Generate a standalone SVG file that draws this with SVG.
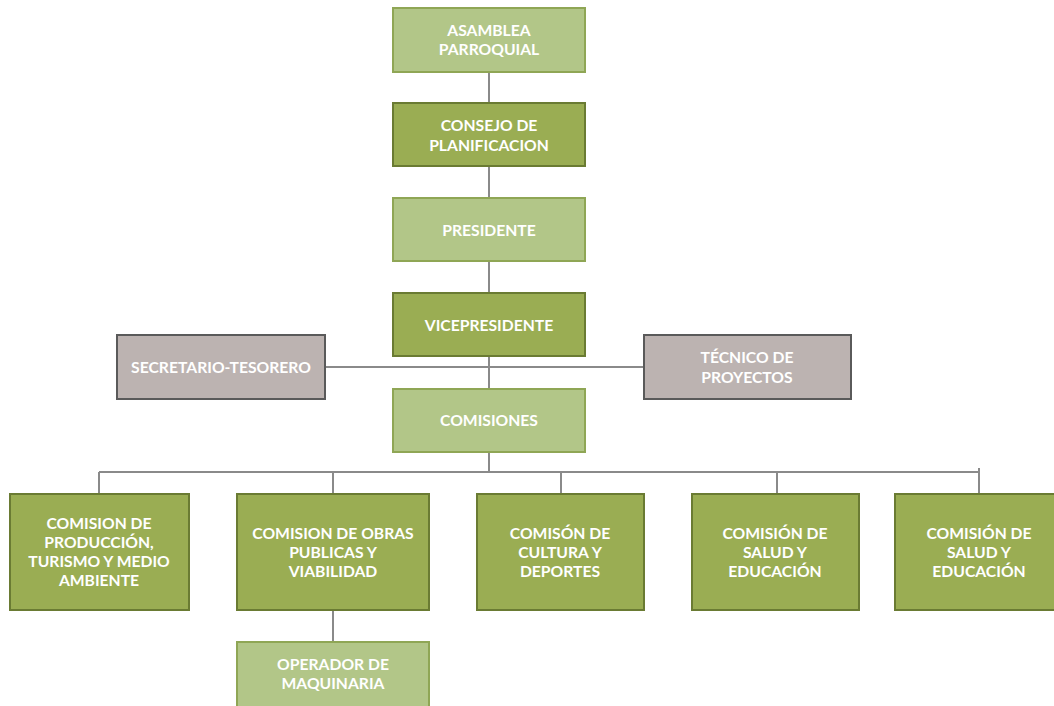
<svg xmlns="http://www.w3.org/2000/svg" width="1054" height="706" viewBox="0 0 1054 706">
<style>
.light{fill:#b2c688;stroke:#8fa655;stroke-width:2}
.dark{fill:#9aad53;stroke:#6a7b33;stroke-width:2}
.gray{fill:#bcb3b1;stroke:#5a5a5a;stroke-width:2}
text{font-family:Lato,"Open Sans","Liberation Sans",sans-serif;font-weight:bold;font-size:15.7px;fill:#ffffff;text-anchor:middle}
.conn{stroke:#8a8a8a;stroke-width:2;fill:none}
</style>
<rect width="1054" height="706" fill="#ffffff"/>
<g id="connectors" class="conn">
<path d="M489 72V103M489 166V198M489 261V293M489 356V389M325 367H644M489 452V472M99 472H979M99 472V494M333 472V494M561 472V494M777 472V494M979 468V494M333 610V642"/>
</g>
<g id="asamblea"><rect class="light" x="393" y="8" width="192" height="64"/><text x="489" y="36">ASAMBLEA</text><text x="489" y="55">PARROQUIAL</text></g>
<g id="consejo"><rect class="dark" x="393" y="103" width="192" height="63"/><text x="489" y="131">CONSEJO DE</text><text x="489" y="151">PLANIFICACION</text></g>
<g id="presidente"><rect class="light" x="393" y="198" width="192" height="63"/><text x="489" y="236">PRESIDENTE</text></g>
<g id="vicepresidente"><rect class="dark" x="393" y="293" width="192" height="63"/><text x="489" y="331">VICEPRESIDENTE</text></g>
<g id="secretario"><rect class="gray" x="117" y="335" width="208" height="64"/><text x="221" y="373">SECRETARIO-TESORERO</text></g>
<g id="tecnico"><rect class="gray" x="644" y="335" width="207" height="64"/><text x="747" y="363">TÉCNICO DE</text><text x="747" y="383">PROYECTOS</text></g>
<g id="comisiones"><rect class="light" x="393" y="389" width="192" height="63"/><text x="489" y="426">COMISIONES</text></g>
<g id="com1"><rect class="dark" x="10" y="494" width="179" height="116"/><text x="99" y="529">COMISION DE</text><text x="99" y="548">PRODUCCIÓN,</text><text x="99" y="567">TURISMO Y MEDIO</text><text x="99" y="586">AMBIENTE</text></g>
<g id="com2"><rect class="dark" x="237" y="494" width="192" height="116"/><text x="333" y="539">COMISION DE OBRAS</text><text x="333" y="558">PUBLICAS Y</text><text x="333" y="577">VIABILIDAD</text></g>
<g id="com3"><rect class="dark" x="477" y="494" width="167" height="116"/><text x="560" y="539">COMISÓN DE</text><text x="560" y="558">CULTURA Y</text><text x="560" y="577">DEPORTES</text></g>
<g id="com4"><rect class="dark" x="692" y="494" width="167" height="116"/><text x="775" y="539">COMISIÓN DE</text><text x="775" y="558">SALUD Y</text><text x="775" y="577">EDUCACIÓN</text></g>
<g id="com5"><rect class="dark" x="895" y="494" width="162" height="116"/><text x="979" y="539">COMISIÓN DE</text><text x="979" y="558">SALUD Y</text><text x="979" y="577">EDUCACIÓN</text></g>
<g id="operador"><rect class="light" x="237" y="642" width="192" height="66"/><text x="333" y="670">OPERADOR DE</text><text x="333" y="689">MAQUINARIA</text></g>
</svg>
